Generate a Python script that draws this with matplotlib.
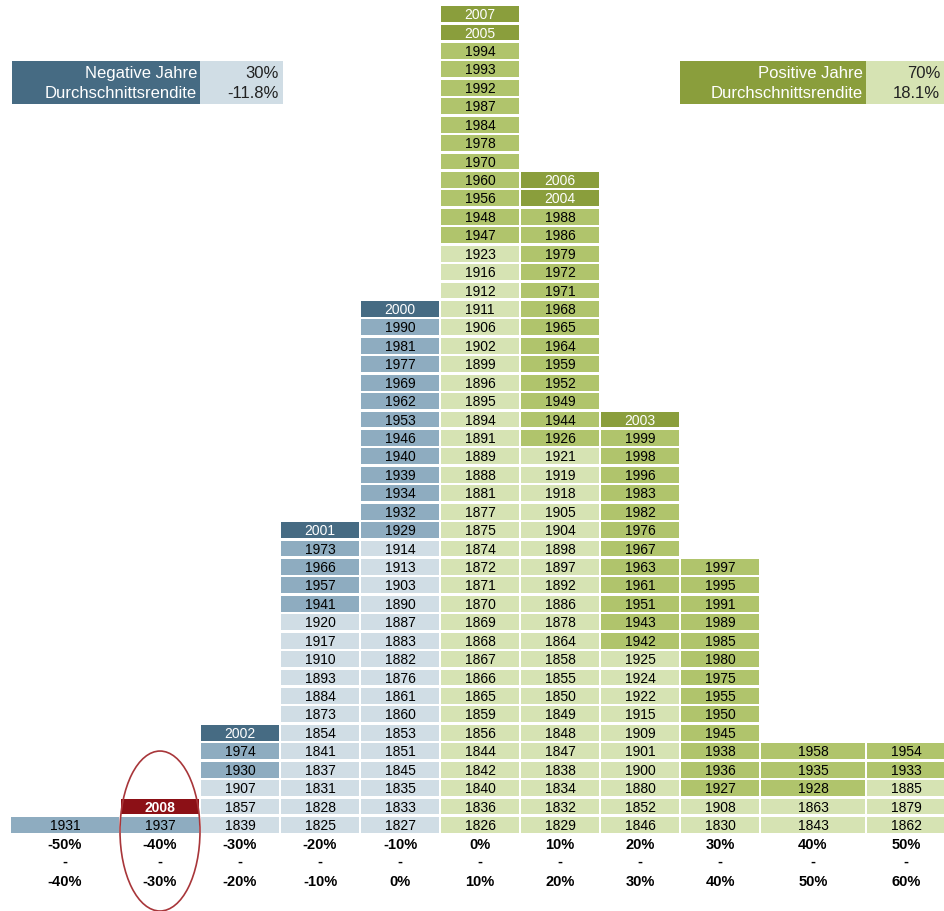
import matplotlib.pyplot as plt
from matplotlib.patches import Rectangle, Ellipse

plt.rcParams['font.family'] = ['Liberation Sans', 'DejaVu Sans']

# return bins (in %) and the years that fall into each, bottom to top
bin_lo = [-50, -40, -30, -20, -10, 0, 10, 20, 30, 40, 50]
bin_hi = [-40, -30, -20, -10, 0, 10, 20, 30, 40, 50, 60]

years_by_bin = [
    [1931],
    [1937, 2008],
    [1839, 1857, 1907, 1930, 1974, 2002],
    [1825, 1828, 1831, 1837, 1841, 1854, 1873, 1884, 1893, 1910, 1917, 1920,
     1941, 1957, 1966, 1973, 2001],
    [1827, 1833, 1835, 1845, 1851, 1853, 1860, 1861, 1876, 1882, 1883, 1887,
     1890, 1903, 1913, 1914, 1929, 1932, 1934, 1939, 1940, 1946, 1953, 1962,
     1969, 1977, 1981, 1990, 2000],
    [1826, 1836, 1840, 1842, 1844, 1856, 1859, 1865, 1866, 1867, 1868, 1869,
     1870, 1871, 1872, 1874, 1875, 1877, 1881, 1888, 1889, 1891, 1894, 1895,
     1896, 1899, 1902, 1906, 1911, 1912, 1916, 1923, 1947, 1948, 1956, 1960,
     1970, 1978, 1984, 1987, 1992, 1993, 1994, 2005, 2007],
    [1829, 1832, 1834, 1838, 1847, 1848, 1849, 1850, 1855, 1858, 1864, 1878,
     1886, 1892, 1897, 1898, 1904, 1905, 1918, 1919, 1921, 1926, 1944, 1949,
     1952, 1959, 1964, 1965, 1968, 1971, 1972, 1979, 1986, 1988, 2004, 2006],
    [1846, 1852, 1880, 1900, 1901, 1909, 1915, 1922, 1924, 1925, 1942, 1943,
     1951, 1961, 1963, 1967, 1976, 1982, 1983, 1996, 1998, 1999, 2003],
    [1830, 1908, 1927, 1936, 1938, 1945, 1950, 1955, 1975, 1980, 1985, 1989,
     1991, 1995, 1997],
    [1843, 1863, 1928, 1935, 1958],
    [1862, 1879, 1885, 1933, 1954],
]

highlight_year = 2008
neg_labels = ["Negative Jahre", "Durchschnittsrendite"]
neg_values = ["30%", "-11.8%"]
pos_labels = ["Positive Jahre", "Durchschnittsrendite"]
pos_values = ["70%", "18.1%"]

# layout: column widths in units of one normal column
col_widths = [1.375, 1, 1, 1, 1, 1, 1, 1, 1, 1.325, 1]

neg_colors = {"old": "#d0dde5", "mid": "#8eacc0", "new": "#466b83"}
pos_colors = {"old": "#d6e3b3", "mid": "#b0c46c", "new": "#8a9e3c"}
red = "#8c1016"


def cell_style(year, negative):
    pal = neg_colors if negative else pos_colors
    if year == highlight_year:
        return red, "white", "bold"
    if year >= 2000:
        return pal["new"], "white", "normal"
    if year >= 1926:
        return pal["mid"], "black", "normal"
    return pal["old"], "black", "normal"


fig = plt.figure(figsize=(9.44, 9.12), dpi=100)
ax = fig.add_axes([0, 0, 1, 1])
ax.set_xlim(-0.125, 11.675)
ax.set_ylim(-4.17, 45.32)
ax.axis("off")

left = 0.0
for i, years in enumerate(years_by_bin):
    w = col_widths[i]
    xc = left + w / 2
    negative = bin_hi[i] <= 0
    for r, yr in enumerate(years):
        fc, tc, fw = cell_style(yr, negative)
        ax.bar(xc, 0.86, bottom=r + 0.07, width=w - 0.035, color=fc,
               edgecolor="none")
        ax.text(xc, r + 0.5, str(yr), ha="center", va="center",
                fontsize=10, color=tc, fontweight=fw)
    ax.text(xc, -0.53, f"{bin_lo[i]}%", ha="center", va="center",
            fontsize=10.5, fontweight="bold")
    ax.text(xc, -1.45, "-", ha="center", va="center",
            fontsize=10.5, fontweight="bold")
    ax.text(xc, -2.54, f"{bin_hi[i]}%", ha="center", va="center",
            fontsize=10.5, fontweight="bold")
    left += w

# red ring around the 2008 column
ring_x = col_widths[0] + col_widths[1] / 2
ax.add_patch(Ellipse((ring_x, 0.17), 1.0, 8.68, fill=False,
                     edgecolor="#a8363a", lw=1.2, clip_on=False))

# summary boxes, drawn in pixel space
lg = fig.add_axes([0, 0, 1, 1])
lg.set_xlim(0, 944)
lg.set_ylim(912, 0)
lg.axis("off")
lg.patch.set_alpha(0)


def summary_box(x0, x1, x2, labels, values, pal):
    lg.add_patch(Rectangle((x0, 62), x1 - x0, 43, color=pal["new"], lw=0))
    lg.add_patch(Rectangle((x1, 62), x2 - x1, 43, color=pal["old"], lw=0))
    for k in range(2):
        y = 73.5 + k * 20.5
        lg.text(x1 - 3, y, labels[k], ha="right", va="center",
                fontsize=12, color="white")
        lg.text(x2 - 4, y, values[k], ha="right", va="center",
                fontsize=12, color="#222222")


summary_box(12, 200, 283, neg_labels, neg_values, neg_colors)
summary_box(680, 866, 944, pos_labels, pos_values, pos_colors)

fig.savefig("out.png", dpi=100)
